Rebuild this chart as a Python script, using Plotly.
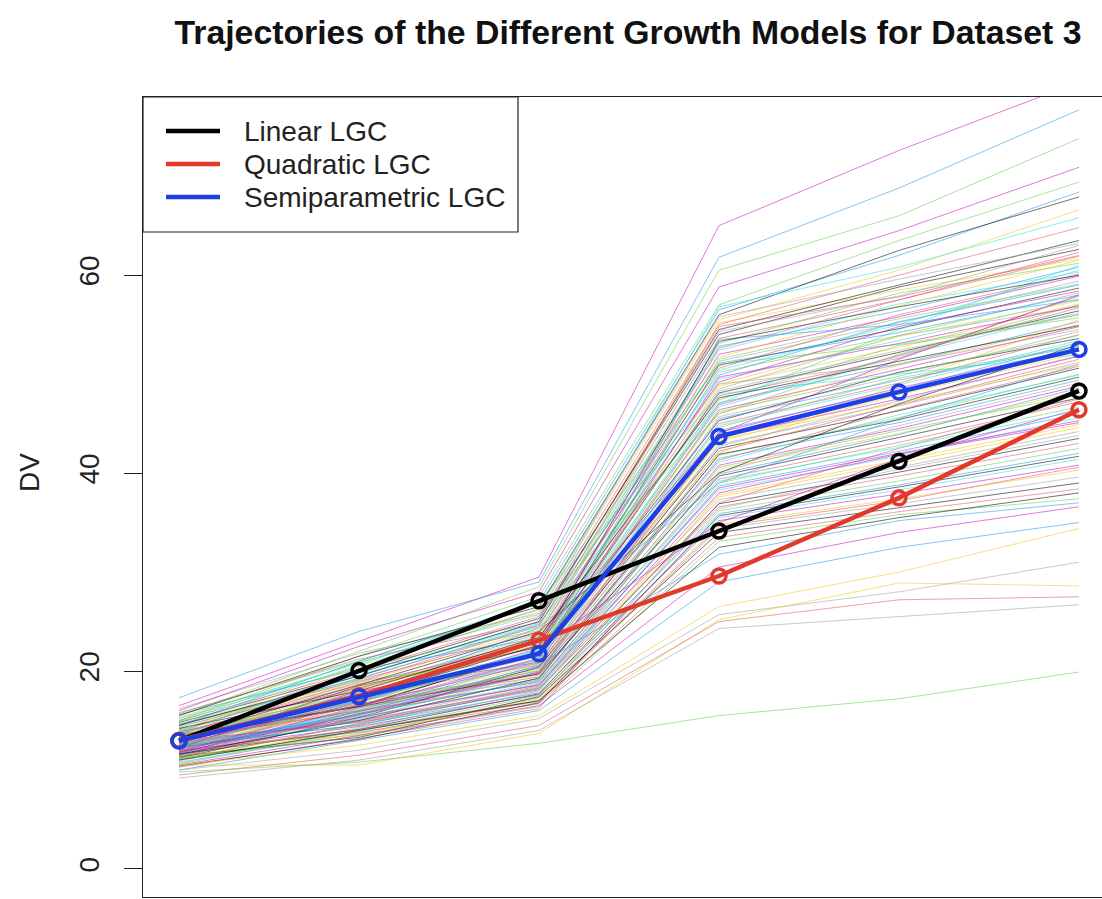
import plotly.graph_objects as go

# ---------------- data ----------------
time_points = [1, 2, 3, 4, 5, 6]

linear_lgc = [12.95, 20.05, 27.1, 34.15, 41.2, 48.3]
quadratic_lgc = [13.0, 17.5, 23.1, 29.6, 37.5, 46.4]
semiparametric_lgc = [12.95, 17.4, 21.75, 43.7, 48.2, 52.5]

model_names = ["Linear LGC", "Quadratic LGC", "Semiparametric LGC"]
model_colors = ["#000000", "#e23a2a", "#1d3fe6"]

# R default palette (used for individual trajectories)
palette = ["#000000", "#DF536B", "#61D04F", "#2297E6", "#28E2E5", "#CD0BBC", "#F5C710", "#9E9E9E"]

# individual trajectories (DV at times 1..6)
traj_high = [
    [16.5, 23.0, 29.5, 65.0, 72.6, 79.5],
    [17.3, 24.0, 29.0, 61.8, 68.8, 76.7],
    [15.5, 22.0, 28.5, 60.5, 66.0, 73.8],
    [16.0, 22.5, 28.0, 58.8, 64.5, 70.9],
    [15.0, 21.5, 27.5, 57.0, 63.5, 69.4],
    [14.5, 21.0, 27.0, 56.5, 62.0, 68.4],
    [15.5, 21.5, 26.5, 56.0, 62.5, 67.9],
    [14.0, 20.5, 26.0, 55.5, 60.5, 66.6],
    [15.0, 20.0, 25.5, 55.0, 60.0, 64.8],
    [14.5, 19.5, 25.0, 54.5, 59.0, 63.5],
    [14.9, 20.9, 25.7, 56.8, 60.8, 65.8],
    [13.8, 20.1, 26.3, 55.8, 59.6, 63.2],
    [15.7, 21.2, 24.9, 54.8, 57.8, 62.0],
]
traj_high_col = [5, 3, 2, 5, 2, 3, 0, 6, 1, 0, 4, 7, 1]

traj_mid = [
    [14.8, 19.8, 25.3, 54.0, 58.8, 62.6],
    [13.6, 18.9, 24.6, 53.6, 57.5, 61.9],
    [15.2, 20.4, 24.1, 53.1, 58.2, 61.2],
    [13.1, 18.2, 23.8, 52.8, 56.4, 60.8],
    [14.3, 19.5, 25.0, 52.4, 57.1, 60.3],
    [12.7, 17.6, 22.9, 52.0, 55.8, 59.9],
    [14.9, 18.8, 24.3, 51.7, 56.9, 61.5],
    [13.4, 17.9, 23.5, 51.3, 55.2, 59.4],
    [12.2, 18.5, 22.4, 50.9, 54.6, 58.7],
    [14.1, 19.1, 23.9, 50.6, 56.0, 60.1],
    [13.0, 17.4, 22.7, 50.2, 53.9, 58.2],
    [15.6, 20.2, 23.3, 49.9, 55.3, 59.0],
    [12.5, 16.9, 22.1, 49.5, 53.4, 57.6],
    [13.8, 18.3, 23.0, 49.2, 54.8, 58.4],
    [11.9, 17.2, 21.6, 48.8, 52.7, 57.1],
    [14.4, 18.7, 22.8, 48.5, 53.9, 56.8],
    [13.2, 16.5, 21.9, 48.1, 52.2, 56.4],
    [12.9, 17.8, 22.5, 47.8, 51.6, 57.9],
    [14.6, 19.0, 21.4, 47.4, 52.9, 55.7],
    [11.6, 16.2, 21.2, 47.1, 51.0, 55.3],
    [13.5, 17.0, 22.2, 46.7, 51.8, 56.2],
    [12.3, 18.0, 20.9, 46.4, 50.5, 54.8],
    [14.0, 16.8, 21.7, 46.0, 50.9, 55.0],
    [12.8, 17.5, 20.6, 45.7, 49.8, 54.3],
    [13.3, 16.4, 22.0, 45.3, 50.2, 53.6],
    [11.4, 15.9, 20.3, 45.0, 49.1, 54.0],
    [14.2, 17.3, 21.1, 44.6, 49.6, 52.9],
    [12.6, 16.6, 20.0, 44.3, 48.4, 53.2],
    [13.7, 17.7, 21.5, 43.9, 48.0, 52.5],
    [11.8, 15.6, 19.8, 43.6, 47.5, 51.8],
    [12.4, 16.1, 20.7, 43.2, 47.9, 52.1],
    [13.9, 17.1, 19.6, 42.9, 46.8, 51.2],
    [11.2, 15.3, 20.4, 42.5, 46.3, 50.6],
    [12.9, 16.7, 19.4, 42.2, 46.9, 51.5],
    [13.4, 15.8, 20.1, 41.8, 45.6, 50.0],
    [11.7, 16.3, 19.2, 41.5, 45.1, 49.4],
    [12.2, 15.1, 19.9, 41.1, 45.9, 49.9],
    [13.1, 16.0, 18.9, 40.8, 44.5, 48.8],
    [11.3, 15.5, 19.5, 40.4, 44.0, 48.3],
    [12.7, 14.9, 18.7, 40.1, 44.8, 49.1],
    [13.6, 16.4, 19.7, 39.7, 43.6, 47.6],
    [11.0, 14.7, 18.5, 39.4, 43.1, 47.2],
    [12.0, 15.7, 19.0, 39.0, 42.8, 46.7],
    [12.5, 14.5, 18.3, 38.7, 42.2, 46.0],
    [11.5, 15.2, 18.8, 38.3, 41.7, 45.6],
    [13.0, 14.8, 18.1, 38.0, 41.9, 45.1],
    [10.9, 14.3, 17.9, 37.6, 41.0, 44.6],
    [12.1, 15.4, 18.6, 37.3, 40.6, 44.2],
    [11.6, 14.1, 17.7, 36.9, 40.1, 43.5],
    [12.8, 15.0, 18.2, 36.6, 39.7, 43.0],
    [11.1, 13.9, 17.5, 36.2, 39.2, 42.5],
    [12.3, 14.6, 17.8, 35.9, 38.8, 42.0],
    [10.8, 13.7, 17.3, 35.5, 38.3, 41.4],
    [11.9, 14.4, 17.6, 35.2, 37.9, 40.8],
    [12.4, 13.5, 17.1, 34.8, 37.4, 40.3],
    [10.6, 14.0, 16.9, 34.4, 36.9, 39.6],
    [11.4, 13.3, 17.4, 34.0, 36.5, 39.0],
    [12.0, 13.8, 16.7, 33.5, 36.1, 38.4],
    [15.8, 21.0, 26.8, 51.0, 53.0, 56.0],
    [11.5, 16.0, 21.0, 53.5, 55.0, 57.5],
    [13.9, 19.6, 24.8, 47.0, 54.5, 61.0],
    [12.6, 17.0, 23.2, 44.0, 51.5, 58.0],
    [14.7, 18.4, 22.6, 42.0, 49.0, 55.5],
    [16.2, 21.8, 25.8, 49.0, 51.0, 54.5],
    [13.3, 18.6, 24.0, 40.0, 47.0, 53.0],
    [10.3, 13.2, 16.2, 37.0, 42.5, 47.5],
    [15.3, 20.8, 26.2, 46.0, 52.0, 57.0],
    [12.2, 17.3, 24.4, 39.0, 45.5, 51.0],
    [14.5, 20.6, 27.0, 48.0, 50.0, 52.0],
    [11.8, 16.9, 22.3, 35.0, 41.5, 46.5],
    [13.2, 18.1, 23.6, 55.2, 58.5, 61.6],
    [14.0, 19.3, 24.5, 54.3, 57.9, 63.0],
    [12.9, 17.3, 22.6, 53.3, 56.8, 60.0],
    [13.7, 18.6, 23.1, 52.6, 57.5, 62.3],
    [12.1, 16.8, 22.0, 51.5, 55.6, 59.1],
    [14.6, 19.2, 24.7, 51.1, 54.2, 58.0],
    [13.0, 17.7, 21.8, 50.4, 55.0, 60.5],
    [11.7, 16.4, 21.3, 49.7, 53.1, 56.9],
    [13.5, 18.2, 22.9, 49.0, 53.8, 57.4],
    [12.4, 17.0, 21.5, 48.3, 52.4, 56.0],
    [14.2, 18.0, 23.4, 47.6, 51.3, 54.9],
    [11.9, 16.6, 20.8, 46.9, 51.9, 56.7],
    [13.1, 17.4, 21.6, 46.2, 50.1, 53.9],
    [12.0, 15.9, 20.5, 45.5, 49.4, 52.8],
    [13.8, 16.9, 21.9, 44.8, 48.9, 53.4],
    [11.3, 15.7, 19.9, 44.1, 48.6, 52.6],
    [12.7, 16.2, 20.2, 43.4, 47.1, 51.0],
    [13.4, 17.6, 20.8, 42.7, 47.3, 51.9],
    [11.6, 15.0, 19.3, 41.9, 45.4, 49.7],
    [12.9, 16.5, 19.8, 41.3, 46.4, 50.8],
    [11.1, 14.6, 18.4, 40.6, 44.3, 47.9],
    [12.5, 15.6, 19.1, 39.9, 43.9, 48.6],
    [10.7, 14.2, 18.0, 39.2, 42.6, 46.3],
    [12.2, 15.3, 18.6, 38.5, 42.0, 45.3],
    [11.4, 13.6, 17.2, 37.8, 41.3, 44.9],
    [12.6, 14.9, 18.3, 36.4, 40.4, 43.8],
    [10.4, 13.1, 16.8, 35.7, 38.6, 41.7],
    [11.8, 14.1, 17.0, 34.6, 37.2, 40.6],
    [11.2, 13.4, 16.4, 33.1, 35.8, 37.4],
    [12.3, 15.5, 20.6, 31.8, 35.2, 37.0],
]

traj_low = [
    [11.0, 14.0, 17.0, 32.5, 35.5, 38.0],
    [10.5, 13.5, 16.5, 30.5, 34.0, 36.6],
    [10.0, 13.0, 16.0, 29.0, 32.5, 35.0],
    [10.5, 12.5, 15.5, 26.5, 30.0, 34.4],
    [10.0, 12.0, 15.2, 25.7, 28.0, 31.0],
    [10.5, 10.5, 13.7, 25.2, 28.9, 28.6],
    [9.5, 11.5, 14.5, 25.0, 27.2, 27.5],
    [9.2, 11.0, 14.0, 24.3, 25.5, 26.7],
    [9.8, 10.8, 12.7, 15.5, 17.2, 19.9],
]
traj_low_col = [0, 5, 3, 6, 7, 6, 1, 7, 2]

# ---------------- figure ----------------
fig = go.Figure()

def add_traj(vals, color):
    fig.add_trace(go.Scatter(
        x=time_points, y=vals, mode="lines",
        line=dict(color=color, width=1), opacity=0.55,
        showlegend=False, hoverinfo="skip"))

for i, v in enumerate(traj_mid):
    add_traj(v, palette[i % len(palette)])
for v, c in zip(traj_high, traj_high_col):
    add_traj(v, palette[c])
for v, c in zip(traj_low, traj_low_col):
    add_traj(v, palette[c])

for name, vals, col in zip(model_names, [linear_lgc, quadratic_lgc, semiparametric_lgc], model_colors):
    fig.add_trace(go.Scatter(
        x=time_points, y=vals, mode="lines+markers", name=name,
        line=dict(color=col, width=4.5),
        marker=dict(symbol="circle-open", size=14, color=col, line=dict(width=3.5, color=col)),
        showlegend=False))

# ---------------- legend (R style box) ----------------
W, H = 1102, 899
L, R, T, B = 143, 0, 97, 2
pw, ph = W - L - R, H - T - B

def px(x):
    return (x - L) / pw

def py(y):
    return (H - B - y) / ph

shapes = [dict(type="rect", xref="paper", yref="paper",
               x0=px(143), x1=px(518), y0=py(232), y1=py(97),
               line=dict(color="#222222", width=1.2), fillcolor="white", layer="above")]
annotations = []
rows = [131, 164, 197]
for name, col, ry in zip(model_names, model_colors, rows):
    shapes.append(dict(type="line", xref="paper", yref="paper",
                       x0=px(166), x1=px(220), y0=py(ry), y1=py(ry),
                       line=dict(color=col, width=4.5), layer="above"))
    annotations.append(dict(xref="paper", yref="paper", x=px(242), y=py(ry),
                            text=name, showarrow=False, xanchor="left", yanchor="middle",
                            font=dict(family="Liberation Sans, Arial", size=28, color="#222222")))

annotations.append(dict(xref="paper", yref="paper", x=px(29), y=py(473),
                        text="DV", showarrow=False, textangle=-90,
                        xanchor="center", yanchor="middle",
                        font=dict(family="Liberation Sans, Arial", size=28, color="#222222")))

fig.update_layout(
    width=W, height=H,
    margin=dict(l=L, r=R, t=T, b=B, pad=0),
    paper_bgcolor="white", plot_bgcolor="white",
    title=dict(text="<b>Trajectories of the Different Growth Models for Dataset 3</b>",
               x=628 / W, xanchor="center", y=1 - 32 / H, yanchor="middle",
               font=dict(family="Liberation Sans, Arial", size=33.8, color="#111111")),
    shapes=shapes, annotations=annotations, showlegend=False,
)
fig.update_xaxes(range=[0.8, 6.128], showgrid=False, zeroline=False,
                 showticklabels=False, ticks="", showline=True, mirror=True,
                 linecolor="#222222", linewidth=1.2)
fig.update_yaxes(range=[-2.83, 78.0], showgrid=False, zeroline=False,
                 tickvals=[0, 20, 40, 60], ticktext=["0", "20", "40", "60"],
                 ticks="outside", ticklen=18, tickwidth=1.2, tickcolor="#222222",
                 tickangle=-90, ticklabelstandoff=14,
                 tickfont=dict(family="Liberation Sans, Arial", size=28, color="#222222"),
                 showline=True, mirror=False, linecolor="#222222", linewidth=1.2)

fig.write_html("out.html", config={"displayModeBar": False},
               post_script="document.body.style.margin='0px';document.body.style.overflow='hidden';")
